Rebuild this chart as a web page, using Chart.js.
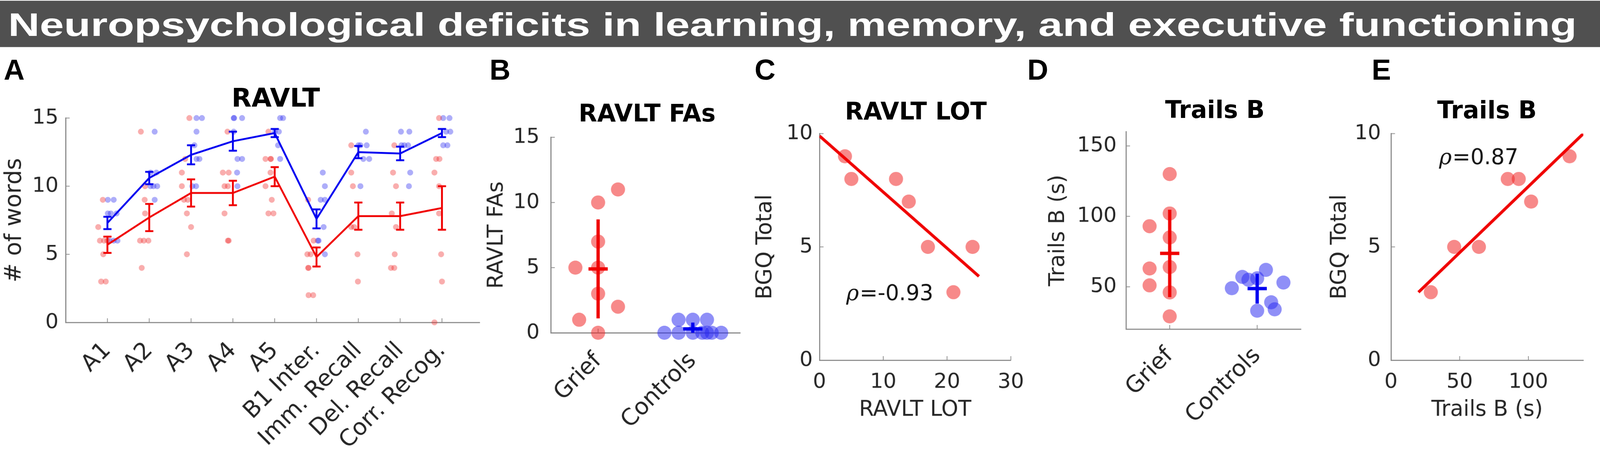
<!DOCTYPE html>
<html>
<head>
<meta charset="utf-8">
<script src="https://cdn.jsdelivr.net/npm/chart.js@4.4.0/dist/chart.umd.min.js"></script>
<style>
  html, body { margin: 0; padding: 0; background: #fff; overflow: hidden; }
  #page { position: relative; width: 4317px; height: 1206px; transform-origin: 0 0; }
  .box { position: absolute; }
  #head { position: absolute; left: 0; top: 2px; width: 4317px; height: 125px; background: #505050; }
  #headtxt { position: absolute; left: 22px; top: 21px; font: bold 87px/87px 'Liberation Sans', Arial, sans-serif; color: #fff; white-space: nowrap; transform-origin: 0 0; }
  .lbl { position: absolute; top: 149px; font: bold 78px/78px 'Liberation Sans', Arial, sans-serif; color: #000; }
  .ttl { position: absolute; font: bold 65px/65px 'DejaVu Sans', sans-serif; color: #000; white-space: nowrap; transform: translateX(-50%); }
</style>
</head>
<body>
<div id="page">
<div id="head"><span id="headtxt">Neuropsychological deficits in learning, memory, and executive functioning</span></div>

<div class="lbl" style="left:10px">A</div>
<div class="lbl" style="left:1321px">B</div>
<div class="lbl" style="left:2036px">C</div>
<div class="lbl" style="left:2772px">D</div>
<div class="lbl" style="left:3701px">E</div>

<div class="ttl" style="left:744px;top:229px;font-size:70px;line-height:70px">RAVLT</div>
<div class="ttl" style="left:1746px;top:273px">RAVLT FAs</div>
<div class="ttl" style="left:2471px;top:268px">RAVLT LOT</div>
<div class="ttl" style="left:3278px;top:263px">Trails B</div>
<div class="ttl" style="left:4012px;top:264px">Trails B</div>

<div class="box" style="left:0px;top:266px"><canvas id="ravltChart" width="1314" height="940"></canvas></div>
<div class="box" style="left:1304px;top:307px"><canvas id="faChart" width="712" height="899"></canvas></div>
<div class="box" style="left:2029px;top:309px"><canvas id="lotChart" width="760" height="833"></canvas></div>
<div class="box" style="left:2819px;top:297px"><canvas id="trailsChart" width="710" height="909"></canvas></div>
<div class="box" style="left:3579px;top:300px"><canvas id="trailsBgqChart" width="733" height="842"></canvas></div>
</div>

<script>
// ---- A: RAVLT trials ----
const trialLabels = ["A1", "A2", "A3", "A4", "A5", "B1 Inter.", "Imm. Recall", "Del. Recall", "Corr. Recog."];
const ravltTicks = [0, 5, 10, 15];
const griefMean = [5.7, 7.7, 9.5, 9.5, 10.7, 4.8, 7.8, 7.8, 8.4];
const griefErr = [0.6, 1.0, 1.0, 0.9, 0.7, 0.7, 1.0, 1.0, 1.6];
const controlMean = [7.3, 10.6, 12.3, 13.3, 13.9, 7.6, 12.5, 12.4, 13.9];
const controlErr = [0.45, 0.45, 0.7, 0.7, 0.3, 0.7, 0.45, 0.5, 0.3];
// single subjects per trial, with the horizontal jitter seen in the figure
const griefScores = [
  [9, 7, 6, 6, 6, 5, 3, 3],
  [14, 10, 9, 8, 6, 6, 6, 4],
  [15, 12, 11, 10, 9, 9, 8, 7, 5],
  [14, 11, 11, 10, 10, 8, 6, 6],
  [14, 12, 12, 12, 11, 10, 9, 8, 8],
  [9, 6, 5, 5, 4, 4, 2, 2],
  [13, 11, 10, 7, 7, 5, 3],
  [13, 11, 10, 8, 7, 5, 4, 4],
  [15, 12, 12, 11, 10, 8, 5, 3, 0]
];
const griefJitter = [
  [-0.11, -0.22, -0.18, -0.08, 0.0, -0.10, -0.15, -0.04],
  [-0.20, -0.10, -0.11, -0.10, -0.22, -0.13, -0.02, -0.18],
  [-0.04, -0.14, -0.22, -0.22, -0.17, -0.08, -0.10, 0.0, -0.10],
  [-0.13, -0.24, -0.10, -0.20, -0.12, -0.20, -0.12, -0.10],
  [-0.15, -0.22, -0.10, -0.09, -0.10, -0.22, -0.07, -0.15, -0.03],
  [-0.20, -0.07, -0.22, -0.14, -0.20, -0.19, -0.19, -0.08],
  [-0.17, -0.17, -0.13, -0.17, -0.10, -0.02, -0.01],
  [-0.14, -0.17, -0.10, -0.20, -0.10, -0.13, -0.22, -0.14],
  [-0.07, -0.14, -0.06, -0.18, -0.07, -0.07, -0.02, 0.0, -0.18]
];
const controlScores = [
  [9, 9, 8, 8, 8, 6, 6, 6],
  [14, 11, 11, 10, 10, 10, 9],
  [15, 15, 14, 13, 12, 12, 10, 10],
  [15, 15, 15, 14, 12, 12, 11, 10],
  [15, 15, 14, 14, 13, 12],
  [11, 10, 9, 9, 7, 6, 6, 5],
  [14, 13, 13, 13, 12, 12, 10],
  [14, 14, 13, 13, 13, 11, 10],
  [15, 15, 14, 14, 13, 13]
];
const controlJitter = [
  [0.01, 0.15, 0.01, 0.08, 0.22, 0.05, 0.15, 0.24],
  [0.13, 0.17, 0.03, 0.03, 0.10, 0.19, 0.13],
  [0.13, 0.26, 0.13, 0.08, 0.13, 0.20, 0.03, 0.12],
  [0.02, 0.03, 0.22, 0.02, 0.11, 0.22, 0.10, 0.11],
  [0.13, 0.20, 0.0, 0.10, 0.08, 0.13],
  [0.15, 0.20, 0.10, 0.20, 0.17, 0.03, 0.05, 0.20],
  [0.18, 0.0, 0.05, 0.20, 0.12, 0.26, 0.05],
  [0.02, 0.22, 0.03, 0.10, 0.19, 0.24, 0.21],
  [0.03, 0.18, 0.10, 0.20, 0.03, 0.13]
];

// ---- B: false alarms ----
const groupLabels = ["Grief", "Controls"];
const faTicks = [0, 5, 10, 15];
const faGrief = [11, 10, 7, 5, 5, 3, 2, 1, 0];
const faGriefJitter = [0.21, 0, 0, -0.24, 0, 0, 0.21, -0.2, 0];
const faControls = [1, 1, 1, 0, 0, 0, 0, 0, 0, 0];
const faControlsJitter = [-0.15, 0, 0.15, -0.30, -0.15, 0, 0.10, 0.15, 0.20, 0.30];
const faMean = [4.9, 0.3];
const faSd = [3.8, 0.48];

// ---- C: LOT vs BGQ ----
const lotTicksX = [0, 10, 20, 30];
const lotTicksY = [0, 5, 10];
const lotScore = [4, 5, 12, 14, 17, 24, 21];
const lotBgq = [9, 8, 8, 7, 5, 5, 3];
const lotFitX = [0, 25];
const lotFitY = [9.9, 3.7];

// ---- D: Trails B by group ----
const trailsTicks = [50, 100, 150];
const trailsGrief = [130, 102, 93, 85, 64, 63, 51, 46, 29];
const trailsGriefJitter = [0, 0, -0.23, 0, 0, -0.23, -0.23, 0, 0];
const trailsControls = [49, 57, 55, 56, 62, 53, 39, 34, 33];
const trailsControlsJitter = [-0.29, -0.17, -0.10, 0, 0.10, 0.30, 0.16, 0.20, 0];
const trailsMean = [73.7, 48.7];
const trailsSd = [31, 10.6];

// ---- E: Trails B vs BGQ ----
const trailsTicksX = [0, 50, 100];
const trailsTicksY = [0, 5, 10];
const trailsTime = [29, 46, 64, 85, 93, 102, 130];
const trailsBgq = [3, 5, 5, 8, 8, 7, 9];
const trailsFitX = [20, 140];
const trailsFitY = [3.0, 10.0];

// colours
const ink = '#262626';
const axisGray = '#8a8a8a';
const red = '#f00000';
const blue = '#0000f0';
const redDotSmall = 'rgba(240,40,40,0.38)';
const blueDotSmall = 'rgba(40,40,240,0.38)';
const redDot = 'rgba(240,40,40,0.55)';
const blueDot = 'rgba(40,40,240,0.52)';
const tickFont = { family: 'DejaVu Sans', size: 56 };
const catFont = { family: 'DejaVu Sans', size: 62 };
const titleFont = { family: 'DejaVu Sans', size: 58, lineHeight: 1.2 };

// the viewport can be narrower than 4317px; scale the whole layout to fit it
const page = document.getElementById('page');
const fit = window.innerWidth / 4317;
if (Math.abs(fit - 1) > 0.003) page.style.transform = 'scale(' + fit + ')';

function pts(xs, ys) { return xs.map((x, i) => ({ x: x, y: ys[i] })); }
function jitterPts(values, jitter, pos) { return values.map((v, i) => ({ x: pos + jitter[i], y: v })); }

function xAxis(min, max, ticks, labels, height, pad, title, rotate) {
  return {
    type: 'linear', min: min, max: max,
    afterBuildTicks: s => { s.ticks = ticks.map(v => ({ value: v })); },
    afterFit: s => { s.height = height; },
    grid: { display: false, drawTicks: false },
    border: { display: true, color: axisGray, width: 3 },
    ticks: {
      font: labels ? catFont : tickFont, color: ink, padding: pad, autoSkip: false,
      minRotation: rotate ? 45 : 0, maxRotation: rotate ? 45 : 0,
      callback: (v, i) => labels ? labels[i] : v
    },
    title: { display: !!title, text: title, font: titleFont, color: ink, padding: { top: 0, bottom: 0 } }
  };
}
function yAxis(min, max, ticks, width, pad, title, titlePad, tFont) {
  return {
    min: min, max: max,
    afterBuildTicks: s => { s.ticks = ticks.map(v => ({ value: v })); },
    afterFit: s => { s.width = width; },
    grid: { display: false, drawTicks: false },
    border: { display: true, color: axisGray, width: 3 },
    ticks: { font: tickFont, color: ink, padding: pad },
    title: { display: true, text: title, font: tFont || titleFont, color: ink, padding: { top: titlePad, bottom: 0 } }
  };
}

// small tick marks pointing into the plot, as in MATLAB
const inwardTicks = {
  id: 'inwardTicks',
  beforeDatasetsDraw(chart) {
    const { ctx, chartArea: a, scales: { x, y } } = chart;
    ctx.save();
    ctx.strokeStyle = axisGray;
    ctx.lineWidth = 2;
    ctx.beginPath();
    x.ticks.forEach(t => { const p = x.getPixelForValue(t.value); ctx.moveTo(p, a.bottom); ctx.lineTo(p, a.bottom - 11); });
    y.ticks.forEach(t => { const p = y.getPixelForValue(t.value); ctx.moveTo(a.left, p); ctx.lineTo(a.left + 11, p); });
    ctx.stroke();
    ctx.restore();
  }
};

const ravltErrors = {
  id: 'ravltErrors',
  afterDatasetsDraw(chart) {
    const { ctx, scales: { x, y } } = chart;
    ctx.save();
    ctx.lineWidth = 5;
    [[griefMean, griefErr, red], [controlMean, controlErr, blue]].forEach(([m, e, c]) => {
      ctx.strokeStyle = c;
      ctx.beginPath();
      m.forEach((v, i) => {
        const px = x.getPixelForValue(i + 1);
        const top = y.getPixelForValue(v + e[i]);
        const bot = y.getPixelForValue(v - e[i]);
        ctx.moveTo(px, top); ctx.lineTo(px, bot);
        ctx.moveTo(px - 11, top); ctx.lineTo(px + 11, top);
        ctx.moveTo(px - 11, bot); ctx.lineTo(px + 11, bot);
      });
      ctx.stroke();
    });
    ctx.restore();
  }
};

function meanCross(id, means, sds) {
  return {
    id: id,
    afterDatasetsDraw(chart) {
      const { ctx, chartArea: a, scales: { x, y } } = chart;
      ctx.save();
      ctx.beginPath();
      ctx.rect(a.left, a.top, a.right - a.left, a.bottom - a.top);
      ctx.clip();
      ctx.lineWidth = 9;
      [red, blue].forEach((c, i) => {
        const px = x.getPixelForValue(i + 1);
        const py = y.getPixelForValue(means[i]);
        ctx.strokeStyle = c;
        ctx.beginPath();
        ctx.moveTo(px, y.getPixelForValue(means[i] + sds[i]));
        ctx.lineTo(px, y.getPixelForValue(means[i] - sds[i]));
        ctx.moveTo(px - 26, py); ctx.lineTo(px + 26, py);
        ctx.stroke();
      });
      ctx.restore();
    }
  };
}

function rhoLabel(id, xv, yv, value) {
  return {
    id: id,
    afterDatasetsDraw(chart) {
      const { ctx, scales: { x, y } } = chart;
      const px = x.getPixelForValue(xv), py = y.getPixelForValue(yv);
      ctx.save();
      ctx.fillStyle = '#111';
      ctx.textBaseline = 'middle';
      ctx.textAlign = 'left';
      ctx.font = 'italic 58px "DejaVu Serif"';
      ctx.fillText('ρ', px, py);
      const w = ctx.measureText('ρ').width;
      ctx.font = '58px "DejaVu Sans"';
      ctx.fillText('=' + value, px + w + 2, py);
      ctx.restore();
    }
  };
}

const common = {
  responsive: false, animation: false, events: [],
  plugins: { legend: { display: false }, tooltip: { enabled: false } }
};

// A
new Chart(document.getElementById('ravltChart'), {
  type: 'scatter',
  data: {
    datasets: [
      { data: controlMean.map((v, i) => ({ x: i + 1, y: v })), showLine: true, borderColor: blue, borderWidth: 5, pointRadius: 0, order: 0 },
      { data: griefMean.map((v, i) => ({ x: i + 1, y: v })), showLine: true, borderColor: red, borderWidth: 5, pointRadius: 0, order: 1 },
      { data: griefScores.flatMap((col, i) => jitterPts(col, griefJitter[i], i + 1)), backgroundColor: redDotSmall, borderWidth: 0, pointRadius: 8, clip: false, order: 5 },
      { data: controlScores.flatMap((col, i) => jitterPts(col, controlJitter[i], i + 1)), backgroundColor: blueDotSmall, borderWidth: 0, pointRadius: 8, clip: false, order: 6 }
    ]
  },
  options: Object.assign({}, common, {
    layout: { padding: { top: 40, right: 20, left: 0, bottom: 0 } },
    scales: {
      x: xAxis(0, 9.9, [1, 2, 3, 4, 5, 6, 7, 8, 9], trialLabels, 336, 40, '', true),
      y: yAxis(0, 15, ravltTicks, 177, 19, '# of words', 3, { family: 'DejaVu Sans', size: 62, lineHeight: 1.2 })
    }
  }),
  plugins: [inwardTicks, ravltErrors]
});

// B
new Chart(document.getElementById('faChart'), {
  type: 'scatter',
  data: {
    datasets: [
      { data: jitterPts(faGrief, faGriefJitter, 1), backgroundColor: redDot, borderWidth: 0, pointRadius: 19, clip: false },
      { data: jitterPts(faControls, faControlsJitter, 2), backgroundColor: blueDot, borderWidth: 0, pointRadius: 19, clip: false }
    ]
  },
  options: Object.assign({}, common, {
    layout: { padding: { top: 40, right: 10, left: 0, bottom: 0 } },
    scales: {
      x: xAxis(0.5, 2.5, [1, 2], groupLabels, 308, 40, '', true),
      y: yAxis(0, 15, faTicks, 182, 30, 'RAVLT FAs', 2)
    }
  }),
  plugins: [inwardTicks, meanCross('faCross', faMean, faSd)]
});

// C
new Chart(document.getElementById('lotChart'), {
  type: 'scatter',
  data: {
    datasets: [
      { data: pts(lotFitX, lotFitY), showLine: true, borderColor: red, borderWidth: 8, pointRadius: 0, order: 0 },
      { data: pts(lotScore, lotBgq), backgroundColor: redDot, borderWidth: 0, pointRadius: 19, clip: false, order: 1 }
    ]
  },
  options: Object.assign({}, common, {
    layout: { padding: { top: 40, right: 60, left: 0, bottom: 0 } },
    scales: {
      x: xAxis(0, 30, lotTicksX, null, 170, 26, 'RAVLT LOT', false),
      y: yAxis(0, 10, lotTicksY, 182, 18, 'BGQ Total', 2)
    }
  }),
  plugins: [inwardTicks, rhoLabel('lotRho', 4.2, 2.9, '-0.93')]
});

// D
new Chart(document.getElementById('trailsChart'), {
  type: 'scatter',
  data: {
    datasets: [
      { data: jitterPts(trailsGrief, trailsGriefJitter, 1), backgroundColor: redDot, borderWidth: 0, pointRadius: 19, clip: false },
      { data: jitterPts(trailsControls, trailsControlsJitter, 2), backgroundColor: blueDot, borderWidth: 0, pointRadius: 19, clip: false }
    ]
  },
  options: Object.assign({}, common, {
    layout: { padding: { top: 40, right: 10, left: 0, bottom: 0 } },
    scales: {
      x: xAxis(0.5, 2.5, [1, 2], groupLabels, 318, 36, '', true),
      y: yAxis(20, 160, trailsTicks, 219, 25, 'Trails B (s)', 2)
    }
  }),
  plugins: [inwardTicks, meanCross('trailsCross', trailsMean, trailsSd)]
});

// E
new Chart(document.getElementById('trailsBgqChart'), {
  type: 'scatter',
  data: {
    datasets: [
      { data: pts(trailsFitX, trailsFitY), showLine: true, borderColor: red, borderWidth: 8, pointRadius: 0, order: 0 },
      { data: pts(trailsTime, trailsBgq), backgroundColor: redDot, borderWidth: 0, pointRadius: 19, clip: false, order: 1 }
    ]
  },
  options: Object.assign({}, common, {
    layout: { padding: { top: 40, right: 40, left: 0, bottom: 0 } },
    scales: {
      x: xAxis(0, 140, trailsTicksX, null, 170, 26, 'Trails B (s)', false),
      y: yAxis(0, 10, trailsTicksY, 174, 27, 'BGQ Total', 2)
    }
  }),
  plugins: [inwardTicks, rhoLabel('trailsRho', 35, 8.9, '0.87')]
});

// stretch the banner text to the width it has in the figure
const headTxt = document.getElementById('headtxt');
headTxt.style.transform = 'scaleX(' + (4232 / headTxt.offsetWidth) + ')';
</script>
</body>
</html>
